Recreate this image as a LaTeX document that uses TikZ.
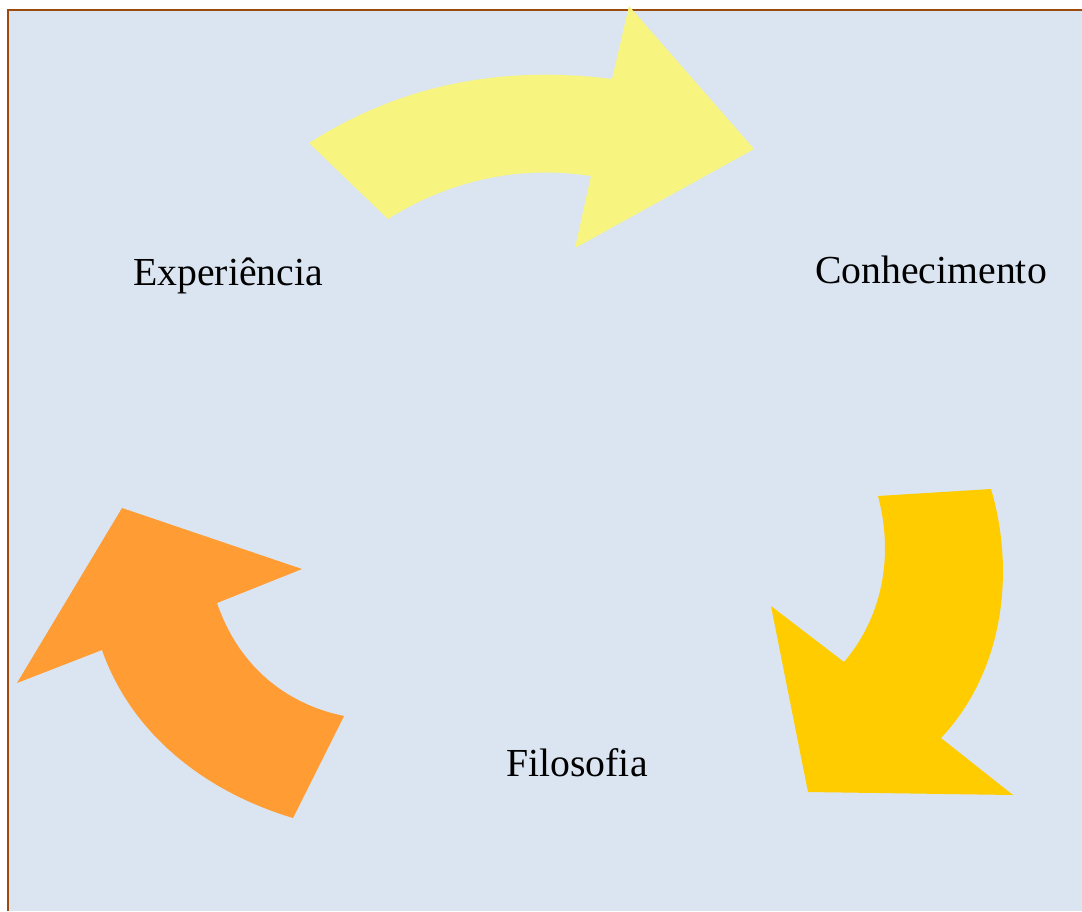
\documentclass[tikz,border=0pt]{standalone}
\usepackage{fontspec}
\setmainfont{Liberation Serif}
\usepackage{tikz}
\usetikzlibrary{calc,positioning}

\definecolor{bgblue}{HTML}{DBE5F1}
\definecolor{frame}{HTML}{9C4A0E}
\definecolor{lightyel}{HTML}{F7F57F}
\definecolor{gold}{HTML}{FFCC00}
\definecolor{orng}{HTML}{FF9C33}

\begin{document}
\begin{tikzpicture}[x=0.75pt,y=-0.75pt]
  \tikzset{
    panel/.style={fill=bgblue},
    edge/.style={draw=frame, line width=1.5pt},
    blk/.style={draw=none},
    lbl/.style={font=\fontsize{29.8}{36}\selectfont, text=black, inner sep=0pt}
  }
  \useasboundingbox (0,0) rectangle (1082,911);

  % - Background panel ---
  \fill[panel] (8,10) rectangle (1082,911);
  \draw[edge] (8,911) -- (8,10) -- (1082,10);

  % - Top arrow (Experiencia -> Conhecimento) ---
  \fill[blk, lightyel] (309,143) .. controls (400,85) and (500,65) .. (612,79)
    -- (629,6) -- (754,149) -- (575,248) -- (591,176)
    .. controls (520,165) and (450,180) .. (388,219) -- cycle;

  % - Right arrow (Conhecimento -> Filosofia) ---
  \fill[blk, gold] (878,496) -- (991,489)
    .. controls (1015,570) and (1005,670) .. (941,738)
    -- (1013,795) -- (808,792) -- (771,606) -- (844,662)
    .. controls (880,620) and (895,560) .. (878,496) -- cycle;

  % - Left arrow (Filosofia -> Experiencia) ---
  \fill[blk, orng] (344,716) -- (293,818)
    .. controls (200,790) and (130,730) .. (102,650)
    -- (17,683) -- (122,508) -- (302,569) -- (217,603)
    .. controls (240,670) and (290,705) .. (344,716) -- cycle;

  % - Labels ---
  \node[lbl] (exp) at (228,276) {Experiência};
  \node[lbl] (con) at (931,270) {Conhecimento};
  \node[lbl] (fil) at (577,763) {Filosofia};

\end{tikzpicture}
\end{document}
